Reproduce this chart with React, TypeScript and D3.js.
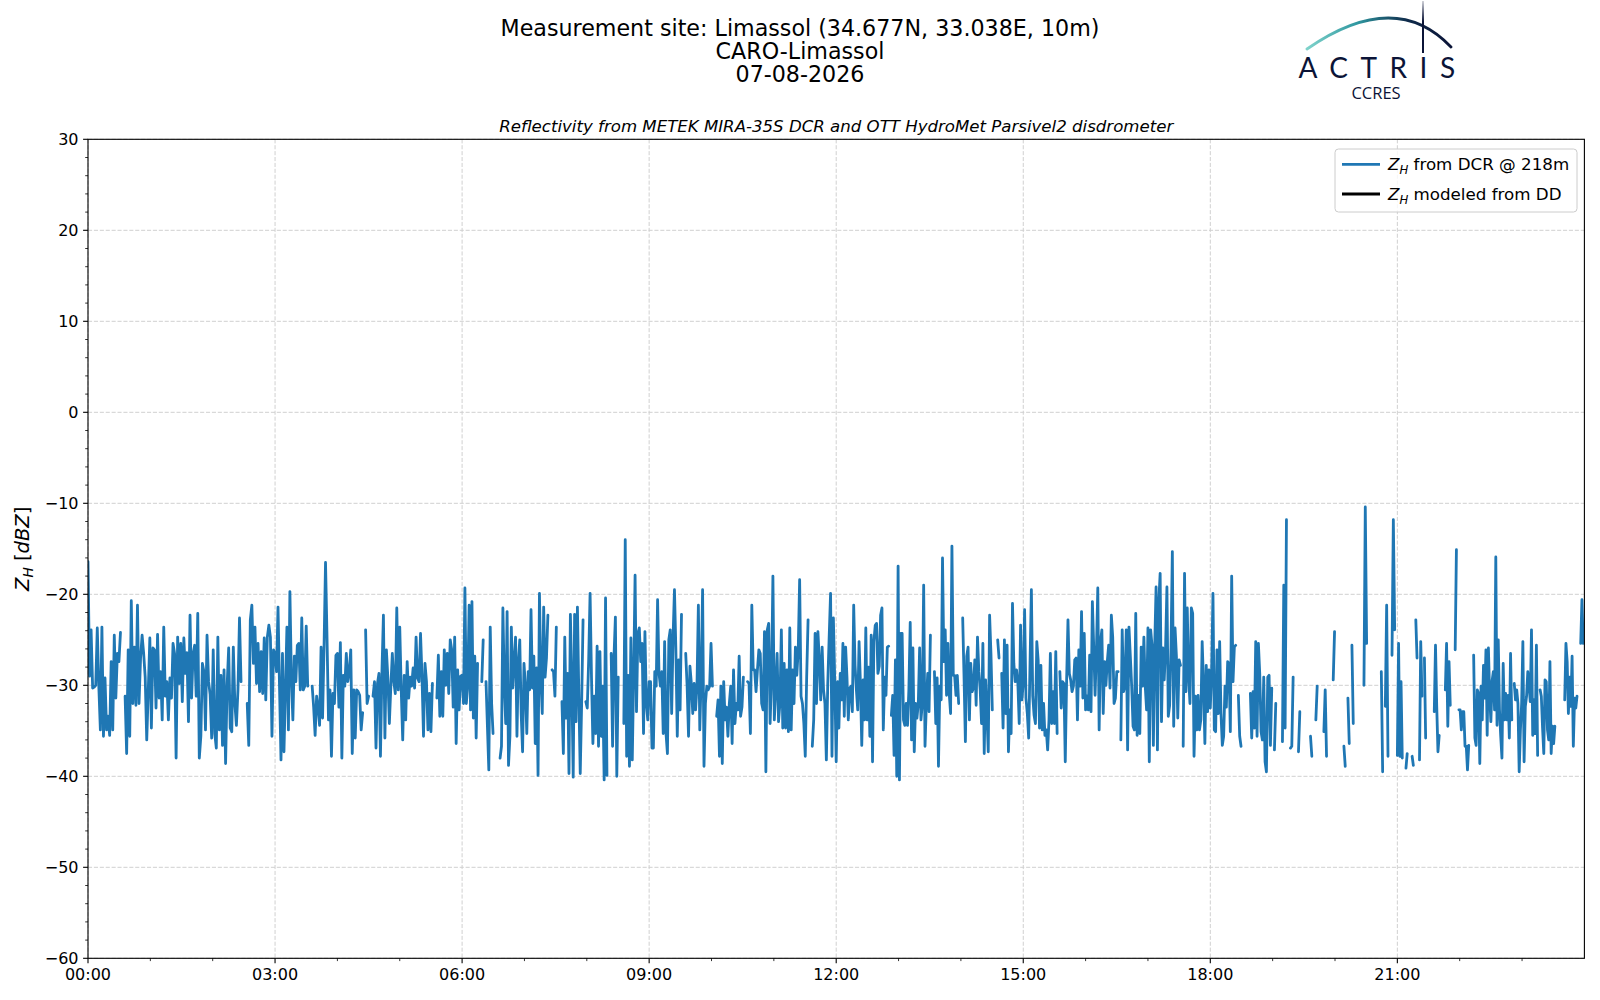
import React from 'react'
import * as d3 from 'd3'

// Z_H from the DCR at 218 m in 3-hour blocks (dBZ, null = no data)
const zh00 = [-16.4, -29.0, -23.9, -30.3, -30.2, -30.0, -23.7, -30.1, -34.9, -23.6, -35.6, -29.2, -34.9, -33.4, -35.5, -27.4, -34.9, -24.5, -31.4, -26.5, -27.4, -24.2, null, null, -31.2, -37.5, -26.1, -35.6, -20.7, -32.0, -25.8, -32.2, -21.2, -32.0, -27.0, -24.5, -26.5, -29.1, -36.0, -30.5, -24.8, -34.7, -25.9, -26.1, -32.5, -24.4, -31.4, -28.5, -33.8, -23.6, -31.2, -29.6, -33.8, -29.2, -31.4, -25.4, -26.5, -38.0, -24.7, -29.8, -25.4, -31.8, -24.8, -28.7, -26.4, -34.0, -22.3, -31.4, -26.5, -25.6, -31.2, -22.1, -38.0, -35.6, -27.6, -28.5, -34.9, -24.5, -29.6, -31.0, -35.8, -26.1, -35.3, -36.9, -24.7, -34.9, -28.9, -36.6, -28.3, -38.6, -30.0, -25.9, -34.7, -35.1, -25.8, -32.0, -34.4, -30.5, -22.6, -29.6, null, null, null, -32.0, -36.6, -22.8, -21.2, -27.6, -23.6, -29.8, -25.4, -30.7, -26.3, -30.9, -24.8, -31.6, -24.7, -23.4, -24.7, -35.6, -26.1]
const zh03 = [-26.5, -28.5, -21.4, -30.1, -38.2, -26.5, -37.3, -30.5, -23.6, -34.9, -19.7, -29.1, -33.8, -26.8, -29.6, -25.6, -25.4, -30.5, -22.6, -30.5, -30.1, -23.5, -30.1, null, null, -30.1, -32.4, -35.5, -31.2, -32.4, -34.4, -25.8, -33.6, -25.8, -16.5, -24.7, -33.8, -30.5, -37.8, -30.9, -32.0, -26.7, -26.5, -32.4, -25.3, -38.0, -28.9, -30.1, -26.5, -29.6, -28.5, -26.1, -37.5, -30.5, -35.8, -30.5, -30.7, -31.1, -34.9, -33.0, null, -23.9, -32.0, -31.2, null, null, -31.2, -29.6, -36.9, -29.8, -28.7, -37.8, -28.5, -22.3, -35.8, -26.1, -29.2, -34.2, -30.1, -26.5, -29.6, -30.9, -21.5, -30.5, -23.6, -30.5, -36.0, -28.9, -33.8, -27.4, -31.4, -29.1, -30.1, -28.1, -30.3, -24.7, -29.2, -29.6, -24.3, -29.1, -35.6, -27.6, -29.6, -34.9, -30.9, -35.1, -29.8, null, null, -31.4, -26.7, -33.4, -28.5, -33.4, -26.1, -30.0, -26.5, -30.9, -25.0, -26.1, -32.4, -24.7, -36.4, -28.3, -32.7, -29.0]
const zh06 = [-28.9, -32.0, -19.3, -32.0, -30.0, -21.2, -32.7, -20.8, -33.6, -26.8, -35.8, -27.6, null, null, -29.6, -25.0, null, -29.6, -34.5, -39.3, -23.6, -32.0, -35.3, null, null, null, null, -38.0, -36.7, -21.5, -29.8, -34.2, -21.9, -38.8, -35.6, -23.6, -30.3, -27.4, -24.7, -35.6, -27.4, -25.0, -33.1, -37.3, -27.6, -30.1, -35.3, -28.5, -30.5, -21.7, -30.3, -26.8, -36.4, -28.1, -39.9, -19.9, -29.1, -33.1, -21.4, -29.1, -27.0, -22.3, null, null, -28.3, -28.5, -31.2, -23.6, null, null, null, -31.8, -37.5, -24.7, -33.6, -28.7, -39.7, -22.2, -29.6, -40.1, -22.2, -34.0, -21.4, -31.1, -39.7, -32.0, -22.8, null, -31.8, -32.5, -27.2, -19.9, -29.1, -36.4, -31.2, -35.3, -25.7, -36.7, -26.3, -35.6, -30.1, -40.4, -20.4, -39.9, null, null, -26.5, -36.7, -26.8, -22.5, -40.0, -29.1, null, null, null, -34.2, -14.0, -37.8, -28.9, -38.9, -24.8, -38.2, -28.7, -17.9, -32.9, -24.3, -23.7, -27.4, -25.4, -35.3, -24.1, -32.0, -33.8]
const zh09 = [-29.6, -29.6, -36.9, -36.9, -28.5, -30.1, -20.6, -28.7, -30.1, -28.5, -35.3, -25.2, -35.3, -37.5, -25.0, -23.9, -33.1, -24.7, -19.5, -26.1, -35.6, -27.2, -32.7, -22.2, null, null, -26.5, -30.1, -35.6, -27.9, -29.8, -33.1, -29.8, -32.7, -30.1, -21.2, -34.9, -29.1, -19.5, -38.9, -32.0, -30.1, -30.5, -30.1, -25.4, -30.1, null, null, -33.4, -31.6, -37.8, -30.1, -38.6, -29.6, -33.8, -32.4, -35.6, -32.0, -30.1, -36.4, -28.3, -34.2, -32.0, -32.7, -26.8, -33.4, -32.4, -29.1, null, null, -29.6, -29.8, -35.3, -21.2, -28.3, -28.3, -30.7, -28.3, -26.1, -26.5, -32.0, -32.7, -24.1, -39.5, -23.9, -23.2, -34.2, -29.4, -18.0, -33.8, -30.5, -26.5, -34.0, -32.0, -23.9, -34.7, -27.6, -34.7, -28.3, -35.1, -23.7, -34.9, -28.3, -32.0, -25.8, -28.9, -26.1, -18.4, -31.2, -32.0, -34.2, -37.8, -29.1, -22.8, null, null, -36.7, -33.8, -24.3, -32.0, -24.1, -27.2, -31.6, -25.8, -30.5, -32.0, -38.2, -29.8, -24.7, -19.9, -37.8, -22.6, -29.8]
const zh12 = [-38.4, -29.6, -34.7, -28.7, -31.6, -25.4, -33.4, -25.8, -29.1, -33.8, -30.3, -30.1, -32.9, -21.2, -27.8, -30.5, -32.7, -25.2, -29.8, -36.6, -29.4, -33.8, -23.7, -33.8, -28.0, -35.6, -24.5, -38.4, -25.2, -23.4, -23.2, -28.7, -27.9, -22.3, -21.5, -34.9, -29.1, -31.1, -25.8, -25.7, null, -33.3, -31.1, -37.7, -27.2, -40.0, -16.9, -40.4, -24.3, -24.3, -33.8, -34.4, -32.0, -34.4, -30.5, -23.1, -36.0, -25.9, -37.3, -32.0, -33.6, -32.0, -25.9, -33.8, -32.0, -19.0, -36.7, -32.0, -28.7, -32.9, -24.5, null, null, -28.5, -34.2, -29.2, -38.9, -30.1, -31.6, -16.0, -27.4, -23.9, -31.1, -25.4, -30.9, -33.1, -14.7, -28.9, -28.9, -31.1, -28.9, -32.0, null, null, -22.6, -29.1, -36.2, -26.8, -25.8, -33.8, -27.6, -30.7, -30.3, -27.2, -32.2, -24.7, -28.5, -30.5, -34.2, -25.4, -37.5, -29.4, -33.1, -37.3, -22.3, -26.5, -32.7, null, null, null, -25.0, -27.0, null, -28.7, -34.7, -25.0, -33.1, -25.6, -37.3, -32.7, -35.3, -21.0, -27.6, -29.6, -28.3, -29.8, -34.2, -23.4, -31.6]
const zh15 = [-29.8, -21.7, -31.4, -33.1, -35.8, -27.6, -19.5, -31.2, -33.3, -34.2, -25.2, -27.2, -34.7, -27.8, -34.9, -32.0, -35.5, -34.9, -37.1, -33.8, -26.5, -34.2, -30.7, -34.2, -26.3, -35.3, null, -28.5, -32.5, -29.6, -29.8, -38.4, -29.4, -22.8, -28.7, -29.4, -30.7, -30.1, -27.2, -27.0, -33.8, -26.1, -30.1, -21.9, -31.4, -24.3, -32.7, -31.2, -32.7, -26.7, -32.9, -20.8, -25.8, -31.1, -26.1, -19.3, -34.9, -25.2, -23.9, -33.1, -27.4, -30.0, -27.4, -25.6, -30.3, -22.3, -24.7, -32.0, -31.4, -28.5, -28.5, null, -36.0, -23.9, -30.7, -30.1, -23.9, -37.1, -23.6, -26.8, -30.1, -34.5, -34.9, -22.1, -35.5, -31.1, -35.3, -25.8, -30.1, -24.7, -30.1, -32.7, -23.7, -38.4, -23.9, -25.6, -36.6, -25.6, -19.2, -37.1, -20.8, -17.7, -34.0, -25.9, -29.4, -25.9, -19.2, -33.4, -32.2, -25.8, -15.3, -34.5, -23.7, -26.8, -33.6, -27.2, -27.8, null, -36.7, -17.7, -30.7, -21.5, -29.1, -32.0, -21.5, -22.1, -37.8, -31.2, -34.9, -31.1, -34.9, -33.8, -25.2, -29.8, -36.4, -27.8, -32.9, -28.3]
const zh18 = [-32.5, -28.5, -19.9, -34.9, -35.1, -26.1, -33.1, -25.2, -33.1, -36.6, -35.6, -30.1, -32.4, -27.4, -27.6, -35.1, -18.0, -29.6, -25.8, -25.6, null, -31.1, -35.6, -36.7, null, null, null, null, null, null, -30.9, -35.8, -30.7, -34.7, -25.2, -35.6, -25.4, -28.7, -35.1, -36.0, -29.1, -38.4, -39.5, -29.1, -28.9, -36.6, -30.3, null, -37.1, -32.0, null, null, null, null, -36.2, -19.0, -34.7, -11.8, null, null, -36.9, -36.7, -29.1, null, null, null, -37.3, -32.9, null, null, null, null, null, null, null, -35.6, -37.8, null, null, -33.8, -30.1, null, null, null, null, -35.1, -30.5, -37.8, null, null, null, null, -29.4, -24.1, null, null, null, null, null, null, -36.7, -38.9, null, -31.4, -36.4, null, -25.6, -34.2, null, null, null, null, null, null, null, -30.0, -10.4, -25.4, null, null, null, null, null, null, null, null, null, null, -28.5, -39.5, null, -32.3, -21.2, -37.8, null, null, -26.7, -11.8, -23.9, null]
const zh21 = [-37.7, -25.4, -37.8, -29.6, -38.0, null, null, -39.1, -37.5, null, null, null, -37.8, -38.8, null, -22.8, -27.0, null, -38.2, -25.2, -31.2, null, -27.0, -35.8, null, null, null, null, null, null, -32.9, -25.6, -32.3, -37.3, -35.5, null, null, null, null, -30.5, -25.4, -34.5, -27.4, -32.2, null, null, null, -26.1, -15.1, null, -32.7, -32.7, -34.9, -32.9, -32.9, -36.7, -36.7, -39.3, -36.6, null, null, null, -26.7, -35.8, -36.6, -30.5, -30.9, -38.6, -30.1, -33.8, -27.8, -31.4, -26.1, -35.5, -25.9, -31.0, -34.0, -29.5, -28.5, -32.7, -15.9, -34.4, -25.0, -32.7, -35.6, -38.0, -27.6, -33.8, -30.9, -33.8, -31.1, -35.8, -26.5, -33.8, null, -29.8, -31.6, -30.5, -32.0, -39.5, -34.9, -32.0, -25.2, -38.4, -32.3, -31.2, -28.5, -30.0, -31.8, -23.9, -35.5, -31.6, -35.3, -25.6, -37.7, null, -30.5, -31.2, -34.7, -37.5, -29.4, -29.6, -34.9, -36.0, -27.4, -37.5, -34.5, -36.4, -34.5, null, null, null, null, null, null, null, -31.6, -25.4, -27.4, -33.1, -29.1, -32.3, -26.8, -36.7, -31.4, -32.5, -31.2, null, null, -25.4, -20.6, -25.4]

const zhBlocks = [zh00, zh03, zh06, zh09, zh12, zh15, zh18, zh21]
// Z_H modeled from the disdrometer: no rain that day, nothing to draw
const zhDd: { t: number, v: number }[] = []

const majorHours = [0, 3, 6, 9, 12, 15, 18, 21]
const minorHours = [1, 2, 4, 5, 7, 8, 10, 11, 13, 14, 16, 17, 19, 20, 22, 23]
const yMajor = [-60, -50, -40, -30, -20, -10, 0, 10, 20, 30]

const titleLines = ['Measurement site: Limassol (34.677N, 33.038E, 10m)', 'CARO-Limassol', '07-08-2026']
const subTitle = 'Reflectivity from METEK MIRA-35S DCR and OTT HydroMet Parsivel2 disdrometer'

const FONT = '"DejaVu Sans", sans-serif'
const BLUE = '#1f77b4'

type Pt = { t: number, v: number | null }

const ZH = ({ sub = 'H' }) => (
	<>
		<tspan fontStyle="italic">Z</tspan>
		<tspan fontStyle="italic" fontSize="70%" dy={4}>{sub}</tspan>
	</>
)

export default function App() {
	const W = 1600, H = 1000
	const left = 88, right = 1584.4, top = 139.3, bottom = 958.3

	const x = d3.scaleLinear().domain([0, 1440]).range([left, right])
	const y = d3.scaleLinear().domain([-60, 30]).range([bottom, top])

	// each block covers 3 hours, its samples spread evenly over them
	const points: Pt[] = zhBlocks.flatMap((block, b) =>
		block.map((v, i) => ({ t: b * 180 + (i * 180) / block.length, v }))
	)

	const line = d3.line<Pt>()
		.defined(d => d.v != null)
		.x(d => x(d.t))
		.y(d => y(d.v as number))
	const lineDd = d3.line<{ t: number, v: number }>().x(d => x(d.t)).y(d => y(d.v))

	const yMinor = d3.range(-60, 31, 2).filter(v => v % 10 !== 0)
	const fmt = (v: number) => (v < 0 ? '\u2212' + Math.abs(v) : String(v))
	const hh = (h: number) => String(h).padStart(2, '0') + ':00'

	const lgX = 1335, lgY = 149

	return (
		<div>
			<style>{'body{margin:0}'}</style>
			<svg width={W} height={H} viewBox={`0 0 ${W} ${H}`} style={{ display: 'block', background: '#fff' }} fontFamily={FONT}>
				<defs>
					<linearGradient id="arcGrad" gradientUnits="userSpaceOnUse" x1={1307} y1={0} x2={1451} y2={0}>
						<stop offset="0" stopColor="#7fd3cb" />
						<stop offset="0.35" stopColor="#2f97a0" />
						<stop offset="0.7" stopColor="#0f2a4a" />
						<stop offset="1" stopColor="#0b1437" />
					</linearGradient>
					<linearGradient id="mastGrad" gradientUnits="userSpaceOnUse" x1={0} y1={0} x2={0} y2={54}>
						<stop offset="0" stopColor="#0b1437" stopOpacity="0.15" />
						<stop offset="0.4" stopColor="#0b1437" stopOpacity="1" />
						<stop offset="1" stopColor="#0b1437" stopOpacity="1" />
					</linearGradient>
					<clipPath id="plotClip">
						<rect x={left} y={top} width={right - left} height={bottom - top} />
					</clipPath>
				</defs>

				{/* titles */}
				{titleLines.map((s, i) => (
					<text key={i} x={800} y={36 + i * 23} fontSize={22.2} textAnchor="middle" fill="#000">{s}</text>
				))}

				{/* logo */}
				<path d="M1307,49 Q1395,-12 1451,47" fill="none" stroke="url(#arcGrad)" strokeWidth={2.8} strokeLinecap="round" />
				<line x1={1423} x2={1423} y1={1} y2={53} stroke="url(#mastGrad)" strokeWidth={2} />
				<text x={1377} y={78} fontFamily='"Lato", "Open Sans", sans-serif' fontSize={28} letterSpacing={12.5} textAnchor="middle" fill="#0b1437" dx={6}>ACTRIS</text>
				<text x={1376} y={99} fontFamily='"Open Sans", "Lato", sans-serif' fontSize={16.5} textAnchor="middle" fill="#0b1437">CCRES</text>

				<text x={(left + right) / 2} y={131.5} fontSize={16.6} fontStyle="italic" textAnchor="middle">{subTitle}</text>

				{/* grid */}
				<g stroke="#d0d0d0" strokeWidth={1} strokeDasharray="4.1,1.8">
					{majorHours.map(h => (
						<line key={'gx' + h} x1={x(h * 60)} x2={x(h * 60)} y1={top} y2={bottom} />
					))}
					{yMajor.map(v => (
						<line key={'gy' + v} x1={left} x2={right} y1={y(v)} y2={y(v)} />
					))}
				</g>

				{/* data */}
				<g clipPath="url(#plotClip)">
					<path d={line(points) || ''} fill="none" stroke={BLUE} strokeWidth={2.8} strokeLinejoin="round" strokeLinecap="round" />
					<path d={lineDd(zhDd) || ''} fill="none" stroke="#000" strokeWidth={2.8} />
				</g>

				{/* frame */}
				<rect x={left} y={top} width={right - left} height={bottom - top} fill="none" stroke="#000" strokeWidth={1.1} />

				{/* ticks */}
				<g stroke="#000" strokeWidth={1.1}>
					{majorHours.map(h => (
						<line key={'xt' + h} x1={x(h * 60)} x2={x(h * 60)} y1={bottom} y2={bottom + 4.9} />
					))}
					{minorHours.map(h => (
						<line key={'xm' + h} x1={x(h * 60)} x2={x(h * 60)} y1={bottom} y2={bottom + 2.8} strokeWidth={0.8} />
					))}
					{yMajor.map(v => (
						<line key={'yt' + v} x1={left - 4.9} x2={left} y1={y(v)} y2={y(v)} />
					))}
					{yMinor.map(v => (
						<line key={'ym' + v} x1={left - 2.8} x2={left} y1={y(v)} y2={y(v)} strokeWidth={0.8} />
					))}
				</g>
				{majorHours.map(h => (
					<text key={'xl' + h} x={x(h * 60)} y={980} fontSize={16} textAnchor="middle">{hh(h)}</text>
				))}
				{yMajor.map(v => (
					<text key={'yl' + v} x={left - 9.5} y={y(v) + 5.8} fontSize={16} textAnchor="end">{fmt(v)}</text>
				))}

				{/* y label */}
				<text transform={`translate(28.5, ${(top + bottom) / 2}) rotate(-90)`} fontSize={19.5} textAnchor="middle">
					<ZH />
					<tspan dy={-4}> [</tspan>
					<tspan fontStyle="italic">dBZ</tspan>
					<tspan>]</tspan>
				</text>

				{/* legend */}
				<rect x={lgX} y={lgY} width={242} height={63} rx={3.5} fill="#fff" fillOpacity={0.8} stroke="#cccccc" strokeWidth={1} />
				<line x1={1342} x2={1380} y1={164.3} y2={164.3} stroke={BLUE} strokeWidth={2.8} />
				<line x1={1342} x2={1380} y1={194} y2={194} stroke="#000" strokeWidth={2.8} />
				<text x={1388} y={170.3} fontSize={16.7}>
					<ZH />
					<tspan dy={-4}> from DCR @ 218m</tspan>
				</text>
				<text x={1388} y={200} fontSize={16.7}>
					<ZH />
					<tspan dy={-4}> modeled from DD</tspan>
				</text>
			</svg>
		</div>
	)
}
